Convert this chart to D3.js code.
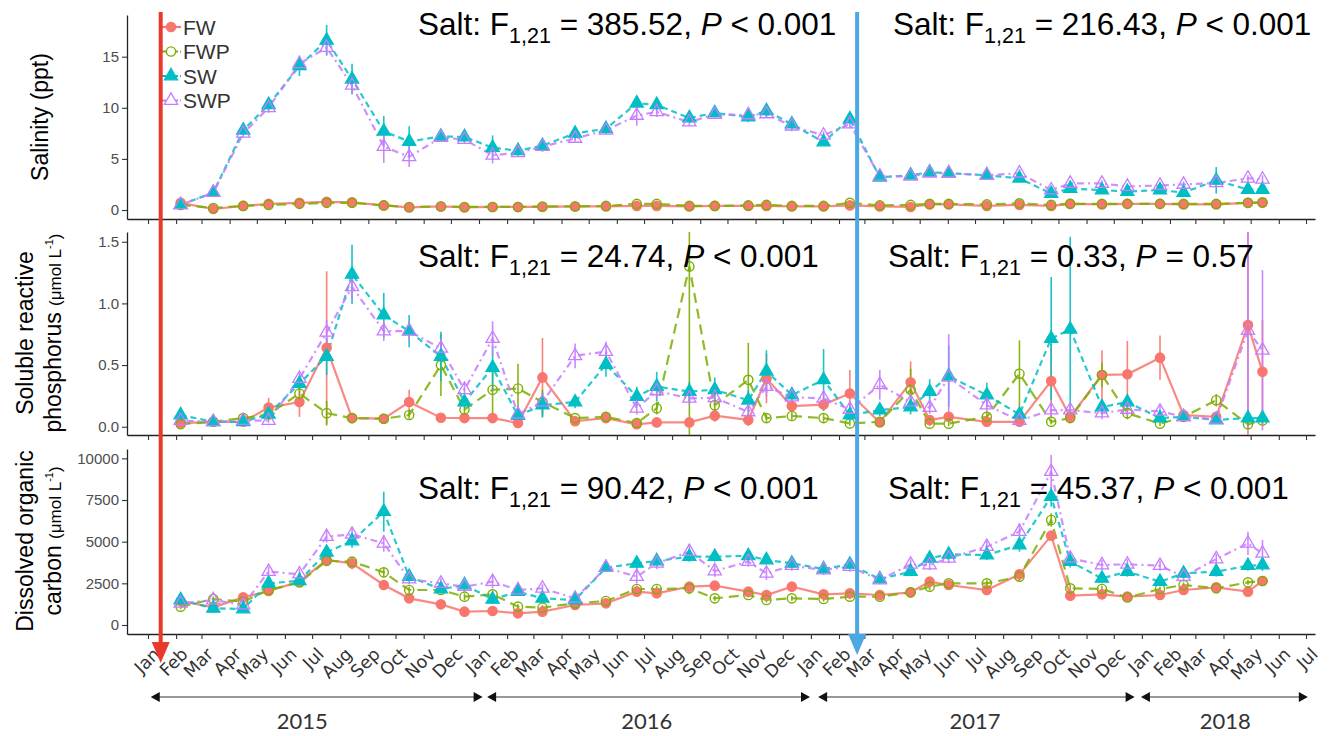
<!DOCTYPE html>
<html><head><meta charset="utf-8">
<script src="https://cdn.jsdelivr.net/npm/d3@7"></script>
<style>body{margin:0;background:#fff} svg{display:block}</style>
</head><body><svg id="chart" width="1331" height="736"></svg>
<script>
// ---------------- DATA ----------------
const sampleDates = ["2015-02-06","2015-03-14","2015-04-16","2015-05-14","2015-06-17","2015-07-17","2015-08-14","2015-09-18","2015-10-16","2015-11-20",
"2015-12-16","2016-01-16","2016-02-13","2016-03-11","2016-04-16","2016-05-20","2016-06-23","2016-07-15","2016-08-20","2016-09-17",
"2016-10-24","2016-11-13","2016-12-11","2017-01-15","2017-02-13","2017-03-18","2017-04-21","2017-05-12","2017-06-02","2017-07-14",
"2017-08-19","2017-09-23","2017-10-14","2017-11-18","2017-12-16","2018-01-21","2018-02-16","2018-03-24","2018-04-28","2018-05-14"];
const treatments = ["FW","FWP","SW","SWP"];

// Salinity (ppt)
const salFW  = [0.7,0.1,0.4,0.6,0.7,0.8,0.75,0.45,0.25,0.35,0.25,0.3,0.3,0.3,0.35,0.35,0.4,0.4,0.35,0.4,0.4,0.4,0.35,0.35,0.45,0.35,0.3,0.55,0.55,0.4,0.5,0.4,0.6,0.55,0.6,0.6,0.55,0.55,0.7,0.7];
const salFWP = [0.5,0.2,0.4,0.5,0.6,0.7,0.7,0.45,0.3,0.35,0.3,0.3,0.3,0.35,0.35,0.4,0.6,0.6,0.4,0.4,0.45,0.5,0.4,0.4,0.7,0.45,0.5,0.6,0.6,0.55,0.65,0.5,0.6,0.6,0.6,0.6,0.6,0.6,0.7,0.75];
const salSW  = [0.5,1.7,7.8,10.3,14.1,16.6,12.8,7.7,6.7,7.2,7.15,6.1,5.8,6.3,7.5,7.95,10.45,10.3,9.0,9.5,9.1,9.7,8.4,6.65,8.9,3.2,3.4,3.7,3.6,3.4,3.1,1.6,2.1,1.95,1.8,1.95,1.7,2.9,2.0,2.0];
const salSWP = [0.5,1.7,7.5,10.0,14.3,15.9,12.2,6.2,5.2,7.1,6.9,5.35,5.6,6.2,7.0,7.8,9.25,9.6,8.6,9.35,9.3,9.4,8.2,7.3,8.4,3.3,3.3,3.6,3.6,3.4,3.6,1.95,2.6,2.6,2.3,2.4,2.5,2.65,3.1,3.0];
const salFWe  = [0.1,0.1,0.1,0.1,0.1,0.1,0.1,0.1,0.1,0.1,0.1,0.1,0.1,0.1,0.1,0.1,0.1,0.1,0.1,0.1,0.1,0.1,0.1,0.1,0.1,0.1,0.1,0.1,0.1,0.1,0.1,0.1,0.1,0.1,0.1,0.1,0.1,0.1,0.1,0.1];
const salFWPe = [0.1,0.1,0.1,0.1,0.1,0.1,0.1,0.1,0.1,0.1,0.1,0.1,0.1,0.1,0.1,0.1,0.15,0.15,0.1,0.1,0.1,0.1,0.1,0.1,0.15,0.1,0.1,0.1,0.1,0.1,0.1,0.1,0.1,0.1,0.1,0.1,0.1,0.1,0.1,0.1];
const salSWe  = [0.1,0.2,0.4,0.6,1.0,1.5,1.5,1.5,1.5,0.5,0.5,1.2,0.5,0.6,0.6,0.5,0.6,0.6,0.4,0.4,0.5,0.6,0.5,0.3,0.5,0.3,0.3,0.3,0.3,0.3,0.3,0.3,0.3,0.3,0.3,0.3,0.3,1.3,0.3,0.3];
const salSWPe = [0.1,0.2,0.4,0.5,0.5,0.7,0.8,1.6,1.0,0.4,0.4,0.8,0.3,0.3,0.3,0.3,1.0,0.5,0.4,0.3,0.5,0.4,0.5,0.4,0.4,0.3,0.3,0.3,0.3,0.3,0.4,0.3,0.3,0.3,0.3,0.3,0.3,0.3,0.3,0.4];

// Soluble reactive phosphorus (umol/L)
const srpFW  = [0.03,0.04,0.04,0.155,0.2,0.64,0.07,0.065,0.2,0.073,0.07,0.07,0.03,0.4,0.045,0.07,0.02,0.035,0.035,0.09,0.055,0.39,0.168,0.18,0.27,0.035,0.36,0.055,0.08,0.04,0.04,0.37,0.08,0.42,0.425,0.56,0.095,0.08,0.825,0.445];
const srpFWP = [0.02,0.04,0.07,0.1,0.27,0.11,0.07,0.065,0.095,0.5,0.14,0.3,0.31,0.2,0.07,0.08,0.03,0.15,1.3,0.175,0.38,0.07,0.087,0.07,0.027,0.04,0.3,0.025,0.025,0.08,0.43,0.04,0.07,0.42,0.11,0.025,0.08,0.215,0.02,0.05];
const srpSW  = [0.095,0.04,0.04,0.1,0.35,0.57,1.235,0.905,0.775,0.57,0.2,0.48,0.09,0.175,0.2,0.505,0.245,0.325,0.285,0.3,0.215,0.45,0.257,0.38,0.095,0.135,0.16,0.285,0.41,0.257,0.1,0.715,0.79,0.16,0.2,0.07,0.08,0.055,0.07,0.07];
const srpSWP = [0.05,0.04,0.05,0.05,0.39,0.765,1.135,0.775,0.775,0.635,0.3,0.715,0.1,0.2,0.575,0.61,0.15,0.29,0.23,0.235,0.12,0.325,0.24,0.23,0.14,0.34,0.2,0.155,0.4,0.175,0.05,0.135,0.135,0.11,0.14,0.125,0.08,0.06,0.78,0.62];
const srpFWe  = [0.01,0.01,0.01,0.08,0.12,0.62,0.02,0.02,0.1,0.02,0.02,0.02,0.02,0.32,0.02,0.02,0.02,0.02,0.02,0.05,0.05,0.2,0.05,0.05,0.19,0.03,0.17,0.03,0.03,0.02,0.02,0.3,0.03,0.2,0.27,0.18,0.03,0.03,0.9,0.42];
const srpFWPe = [0.01,0.01,0.02,0.03,0.1,0.1,0.02,0.02,0.03,0.25,0.05,0.19,0.2,0.1,0.02,0.02,0.02,0.05,1.4,0.05,0.3,0.03,0.03,0.03,0.02,0.02,0.17,0.02,0.02,0.03,0.27,0.02,0.03,0.1,0.05,0.02,0.03,0.05,0.02,0.03];
const srpSWe  = [0.03,0.01,0.01,0.03,0.05,0.15,0.24,0.18,0.13,0.2,0.05,0.18,0.03,0.1,0.05,0.1,0.08,0.12,0.08,0.1,0.08,0.17,0.06,0.25,0.05,0.05,0.06,0.1,0.25,0.1,0.05,0.5,0.75,0.06,0.06,0.03,0.03,0.03,0.03,0.03];
const srpSWPe = [0.02,0.01,0.01,0.02,0.05,0.1,0.1,0.08,0.08,0.08,0.06,0.14,0.03,0.05,0.1,0.08,0.05,0.06,0.05,0.05,0.05,0.08,0.05,0.06,0.05,0.12,0.06,0.05,0.35,0.06,0.03,0.06,0.06,0.05,0.05,0.05,0.03,0.03,0.8,0.65];

// Dissolved organic carbon (umol/L)
const docFW  = [1440,1060,1660,2040,2600,3900,3700,2400,1600,1240,800,840,700,800,1200,1300,2000,1900,2300,2360,2000,1800,2300,1840,1900,1800,1960,2600,2400,2100,3040,5360,1760,1840,1700,1800,2100,2260,2000,2640];
const docFWP = [1100,1560,1400,2100,2550,3850,3800,3160,2100,2100,1700,1840,1100,1040,1300,1440,2160,2160,2200,1600,1800,1500,1600,1560,1700,1700,1960,2300,2500,2500,2900,6300,2200,2160,1650,2160,2400,2200,2560,2640];
const docSW  = [1500,1000,960,2500,2650,4360,5040,6800,2900,2150,2400,1540,2000,1600,1500,3440,3700,3840,4100,4100,4150,3900,3700,3360,3640,2760,3200,4000,4240,4200,4800,7700,3800,2800,3200,2600,3100,3200,3560,3600];
const docSWP = [1300,1500,1200,3200,3050,5300,5440,4900,2750,2500,2300,2600,2100,2200,1600,3440,2900,3700,4400,3240,3800,3100,3560,3300,3500,2700,3640,3600,4000,4700,5600,9200,4000,3600,3640,3560,2900,3960,4900,4300];
const docFWe  = [150,120,150,150,150,300,350,250,150,120,100,100,100,100,100,120,200,200,250,200,200,150,200,150,150,150,150,200,200,200,250,200,150,150,150,150,150,150,150,150];
const docFWPe = [150,150,150,150,150,250,250,250,200,200,200,200,150,150,150,150,200,200,350,150,150,150,150,150,150,150,150,200,200,200,250,400,200,200,150,150,150,150,150,150];
const docSWe  = [200,150,150,250,250,300,400,1200,300,250,300,250,250,200,200,250,400,350,300,300,400,250,300,250,250,200,250,300,300,300,400,600,350,300,300,250,250,300,300,350];
const docSWPe = [200,150,150,300,300,350,400,500,300,300,300,400,250,250,200,250,400,350,450,350,300,400,300,300,300,250,300,300,300,350,500,1000,400,300,300,300,300,300,700,800];

// Axis tick values / labels
const salTicks = [0,5,10,15];
const srpTicks = [0,0.5,1,1.5];
const docTicks = [0,2500,5000,7500,10000];
const monthLabels = ["Jan","Feb","Mar","Apr","May","Jun","Jul","Aug","Sep","Oct","Nov","Dec"];
const yearLabels = ["2015","2016","2017","2018"];
const yearSpanStart = ["2015-01-04","2016-01-10","2017-01-09","2017-12-31"];
const yearSpanEnd   = ["2016-01-05","2016-12-31","2017-12-24","2018-07-03"];
const yearLabelDate = ["2015-06-20","2016-07-04","2017-07-01","2018-04-03"];
const eventDates = ["2015-01-15","2017-02-21"];

// Stats annotations
const statF = ["385.52","216.43","24.74","0.33","90.42","45.37"];
const statP = ["< 0.001","< 0.001","< 0.001","= 0.57","< 0.001","< 0.001"];

// ---------------- CHART ----------------
const svg = d3.select("#chart");
const parse = d3.utcParse("%Y-%m-%d");
const dates = sampleDates.map(parse);
const colors = {FW:"#F8766D", FWP:"#7CAE00", SW:"#00BFC4", SWP:"#C77CFF"};
const dashes = {FW:null, FWP:"10,6", SW:"6,4", SWP:"2,4,7,4"};

const X0 = 127, X1 = 1315;
const base = d3.scaleUtc().domain([parse("2015-01-01"), parse("2018-07-01")]).range([148, 1306]);
const x = d3.scaleUtc().domain([base.invert(X0), base.invert(X1)]).range([X0, X1]);
const monthTicks = d3.utcMonth.range(parse("2015-01-01"), parse("2018-07-02"));

const panels = [
  {top:15, bottom:219, dom:[-0.88,19.08], ticks:salTicks, fmt:d=>String(d),
   series:{FW:[salFW,salFWe],FWP:[salFWP,salFWPe],SW:[salSW,salSWe],SWP:[salSWP,salSWPe]}, base:35},
  {top:232, bottom:435, dom:[-0.067,1.579], ticks:srpTicks, fmt:d3.format(".1f"),
   series:{FW:[srpFW,srpFWe],FWP:[srpFWP,srpFWPe],SW:[srpSW,srpSWe],SWP:[srpSWP,srpSWPe]}, base:267},
  {top:449, bottom:634, dom:[-540,10560], ticks:docTicks, fmt:d=>String(d),
   series:{FW:[docFW,docFWe],FWP:[docFWP,docFWPe],SW:[docSW,docSWe],SWP:[docSWP,docSWPe]}, base:499}
];

const defs = svg.append("defs");

panels.forEach((p, pi) => {
  const y = d3.scaleLinear().domain(p.dom).range([p.bottom, p.top]);
  const g = svg.append("g");
  const clipId = "clip" + pi;
  defs.append("clipPath").attr("id", clipId).append("rect")
    .attr("x", X0).attr("y", p.top).attr("width", X1 - X0).attr("height", p.bottom - p.top);

  // axes
  const ya = g.append("g").attr("transform", `translate(${X0},0)`)
    .call(d3.axisLeft(y).tickValues(p.ticks).tickFormat(p.fmt).tickSize(5).tickSizeOuter(0).tickPadding(3));
  const xa = g.append("g").attr("transform", `translate(0,${p.bottom})`)
    .call(d3.axisBottom(x).tickValues(monthTicks).tickSize(5).tickSizeOuter(0)
      .tickFormat(pi === 2 ? (d => monthLabels[d.getUTCMonth()]) : ""));
  [ya, xa].forEach(a => {
    a.select(".domain").attr("stroke", "#222").attr("stroke-width", 1.3);
    a.selectAll(".tick line").attr("stroke", "#333").attr("stroke-width", 1.1);
  });
  ya.selectAll(".tick text").attr("font-family", "Liberation Sans, Arial, sans-serif")
    .attr("font-size", 15).attr("fill", "#4D4D4D");
  if (pi === 2) {
    xa.selectAll(".tick text")
      .attr("font-family", "'DejaVu Sans', Lato, sans-serif").attr("font-size", 17.5).attr("fill", "#333")
      .attr("text-anchor", "end").attr("y", 0).attr("dy", "0.35em")
      .attr("transform", "translate(8,17) rotate(-45)");
  }

  const plot = g.append("g").attr("clip-path", `url(#${clipId})`);
  // error bars
  treatments.forEach(t => {
    const [vals, errs] = p.series[t];
    plot.append("g").selectAll("line").data(vals).join("line")
      .attr("x1", (d, i) => x(dates[i])).attr("x2", (d, i) => x(dates[i]))
      .attr("y1", (d, i) => y(d - errs[i])).attr("y2", (d, i) => y(d + errs[i]))
      .attr("stroke", colors[t]).attr("stroke-width", 1.6).attr("opacity", 0.9);
  });
  // lines
  treatments.forEach(t => {
    const vals = p.series[t][0];
    plot.append("path").datum(vals)
      .attr("d", d3.line().x((d, i) => x(dates[i])).y(d => y(d)))
      .attr("fill", "none").attr("stroke", colors[t]).attr("stroke-width", 2.2)
      .attr("stroke-dasharray", dashes[t]).attr("opacity", 0.85);
  });
  // points
  treatments.forEach(t => {
    const vals = p.series[t][0];
    const pg = plot.append("g");
    if (t === "FW" || t === "FWP") {
      pg.selectAll("circle").data(vals).join("circle")
        .attr("cx", (d, i) => x(dates[i])).attr("cy", d => y(d)).attr("r", 4.6)
        .attr("fill", t === "FW" ? colors[t] : "none").attr("stroke", colors[t]).attr("stroke-width", 1.4);
    } else {
      pg.selectAll("path").data(vals).join("path")
        .attr("d", d3.symbol().type(d3.symbolTriangle).size(75))
        .attr("transform", (d, i) => `translate(${x(dates[i])},${y(d)})`)
        .attr("fill", t === "SW" ? colors[t] : "none").attr("stroke", colors[t]).attr("stroke-width", 1.3);
    }
  });

  // stats text
  [[418, 2*pi], [pi === 0 ? 893 : 888, 2*pi+1]].forEach(([tx, k]) => {
    const txt = g.append("text").attr("x", tx).attr("y", p.base)
      .attr("font-family", "Liberation Sans, Arial, sans-serif").attr("font-size", 31.5).attr("fill", "#000");
    txt.append("tspan").text("Salt: F");
    txt.append("tspan").attr("font-size", 21.5).attr("dy", 8).text("1,21");
    txt.append("tspan").attr("dy", -8).text(` = ${statF[k]}, `);
    txt.append("tspan").attr("font-style", "italic").text("P");
    txt.append("tspan").text(` ${statP[k]}`);
  });
});

// y-axis titles
const tf = "Liberation Sans, Arial, sans-serif";
function yTitle(cx, cy, parts) {
  const t = svg.append("text").attr("transform", `translate(${cx},${cy}) rotate(-90)`)
    .attr("text-anchor", "middle").attr("font-family", tf).attr("font-size", 23).attr("fill", "#000");
  parts.forEach(pt => {
    const s = t.append("tspan").text(pt.t);
    if (pt.fs) s.attr("font-size", pt.fs);
    if (pt.dy) s.attr("dy", pt.dy);
  });
}
yTitle(48, 117, [{t:"Salinity (ppt)"}]);
yTitle(33, 333, [{t:"Soluble reactive"}]);
yTitle(61, 333, [{t:"phosphorus "},{t:"(μmol L",fs:17},{t:"-1",fs:11,dy:-8},{t:")",fs:17,dy:8}]);
yTitle(33, 541, [{t:"Dissolved organic"}]);
yTitle(61, 541, [{t:"carbon "},{t:"(μmol L",fs:17},{t:"-1",fs:11,dy:-8},{t:")",fs:17,dy:8}]);

// legend
const lg = svg.append("g");
treatments.forEach((t, i) => {
  const ly = 27 + i * 24.5;
  lg.append("line").attr("x1", 162).attr("x2", 181).attr("y1", ly).attr("y2", ly)
    .attr("stroke", colors[t]).attr("stroke-width", 2.2).attr("stroke-dasharray", dashes[t] ? "4,2" : null);
  if (i < 2) lg.append("circle").attr("cx", 171).attr("cy", ly).attr("r", 4.6)
    .attr("fill", i === 0 ? colors[t] : "#fff").attr("stroke", colors[t]).attr("stroke-width", 1.4);
  else lg.append("path").attr("d", d3.symbol().type(d3.symbolTriangle).size(75))
    .attr("transform", `translate(171,${ly})`).attr("fill", i === 2 ? colors[t] : "#fff")
    .attr("stroke", colors[t]).attr("stroke-width", 1.3);
  lg.append("text").attr("x", 183).attr("y", ly).attr("dy", "0.36em")
    .attr("font-family", tf).attr("font-size", 21).attr("fill", "#333").text(t);
});

// event arrows
const eventColors = ["#E8392A", "#4BA8E2"];
const eventTips = [663, 655];
eventDates.forEach((d, i) => {
  const ex = x(parse(d));
  svg.append("line").attr("x1", ex).attr("x2", ex).attr("y1", 12).attr("y2", eventTips[i] - 18)
    .attr("stroke", eventColors[i]).attr("stroke-width", 4);
  svg.append("path").attr("d", `M${ex-9},${eventTips[i]-21}L${ex+9},${eventTips[i]-21}L${ex},${eventTips[i]}Z`)
    .attr("fill", eventColors[i]);
});

// year spans
const yy = 697;
yearLabels.forEach((lab, i) => {
  const a = x(parse(yearSpanStart[i])), b = x(parse(yearSpanEnd[i]));
  svg.append("line").attr("x1", a + 6).attr("x2", b - 6).attr("y1", yy).attr("y2", yy)
    .attr("stroke", "#777").attr("stroke-width", 1.4);
  svg.append("path").attr("d", `M${a},${yy}L${a+9},${yy-5}L${a+9},${yy+5}Z`).attr("fill", "#111");
  svg.append("path").attr("d", `M${b},${yy}L${b-9},${yy-5}L${b-9},${yy+5}Z`).attr("fill", "#111");
  svg.append("text").attr("x", x(parse(yearLabelDate[i]))).attr("y", 729).attr("text-anchor", "middle")
    .attr("font-family", "Lato, 'DejaVu Sans', sans-serif").attr("font-size", 22).attr("fill", "#333").text(lab);
});
</script></body></html>
